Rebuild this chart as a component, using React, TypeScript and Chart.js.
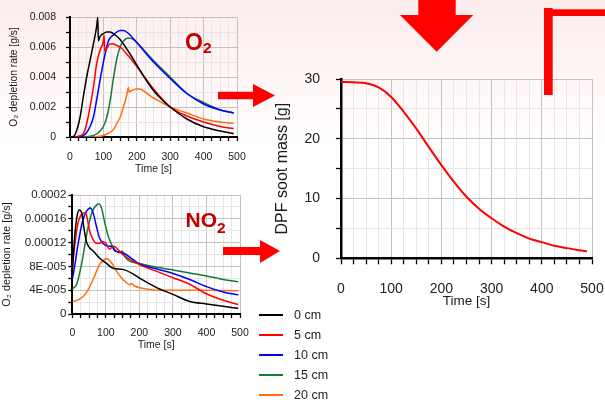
import React, { useEffect, useRef } from 'react';
import { Chart, registerables } from 'chart.js';

Chart.register(...registerables);

const FONT = '"Liberation Sans", Arial, Helvetica, sans-serif';

// ---------- legend / series ----------
const seriesNames = ['0 cm', '5 cm', '10 cm', '15 cm', '20 cm'];
const seriesColors = ['#000000', '#ff0000', '#0000ff', '#137a3a', '#ff7010'];

// ---------- O2 depletion rate [g/s] ----------
const o2Time0 = [0, 10, 20, 30, 40, 50, 60, 70, 80, 83, 85, 90, 100, 110, 120, 135, 150, 175, 200, 225, 250, 275, 300, 350, 400, 450, 490];
const o2Rate0 = [0, 0.00003, 0.00044, 0.0013, 0.0027, 0.004, 0.0051, 0.0062, 0.0074, 0.00798, 0.0064, 0.0067, 0.0069, 0.007, 0.007, 0.0068, 0.0065, 0.0057, 0.0048, 0.0039, 0.0031, 0.0025, 0.002, 0.0012, 0.00068, 0.0004, 0.00022];

const o2Time5 = [0, 20, 30, 40, 50, 60, 70, 80, 90, 100, 102, 104, 110, 120, 130, 140, 150, 175, 200, 250, 300, 350, 400, 450, 490];
const o2Rate5 = [0, 0.00002, 0.00008, 0.00022, 0.0009, 0.002, 0.0033, 0.0049, 0.0058, 0.0064, 0.0068, 0.0057, 0.0059, 0.0062, 0.0062, 0.0061, 0.006, 0.0054, 0.0047, 0.0032, 0.002, 0.0014, 0.001, 0.0007, 0.00056];

const o2Time10 = [0, 30, 40, 50, 60, 70, 80, 90, 100, 110, 115, 120, 130, 140, 150, 160, 175, 200, 250, 300, 350, 400, 450, 490];
const o2Rate10 = [0, 0.00002, 0.0001, 0.0003, 0.0007, 0.0013, 0.0025, 0.0038, 0.005, 0.006, 0.0064, 0.0066, 0.0068, 0.007, 0.0071, 0.0071, 0.0069, 0.0063, 0.005, 0.0039, 0.0029, 0.0022, 0.0018, 0.0016];

const o2Time15 = [0, 50, 70, 80, 90, 100, 110, 120, 130, 140, 150, 160, 175, 190, 200, 250, 300, 350, 400, 450, 490];
const o2Rate15 = [0, 0.00002, 0.0001, 0.0002, 0.0004, 0.0007, 0.0013, 0.0024, 0.0039, 0.0052, 0.006, 0.0064, 0.0066, 0.0065, 0.0063, 0.0051, 0.004, 0.0029, 0.0023, 0.0018, 0.0016];

const o2Time20 = [0, 80, 100, 110, 120, 130, 140, 150, 160, 170, 175, 177, 185, 200, 210, 225, 250, 275, 300, 350, 400, 450, 490];
const o2Rate20 = [0, 0.00002, 0.0001, 0.0002, 0.0003, 0.0005, 0.0009, 0.0013, 0.002, 0.0028, 0.0033, 0.003, 0.0031, 0.0032, 0.0032, 0.003, 0.0026, 0.0023, 0.002, 0.0016, 0.0012, 0.001, 0.0009];

// ---------- NO2 depletion rate [g/s] ----------
const no2Time0 = [0, 8, 15, 21, 28, 34, 42, 52, 62, 81, 100, 121, 150, 183, 203, 253, 300, 350, 400, 450, 495];
const no2Rate0 = [0.00007, 0.000136, 0.000167, 0.000175, 0.00017, 0.000147, 0.000122, 0.000111, 0.000106, 0.000094, 0.000086, 0.000077, 0.000075, 0.0000667, 0.0000594, 0.000044, 0.000033, 0.000021, 0.000017, 0.000013, 0.0000095];

const no2Time5 = [0, 7, 17, 27, 37, 42, 52, 62, 72, 81, 91, 101, 111, 123, 150, 200, 250, 300, 350, 400, 450, 495];
const no2Rate5 = [0.000078, 0.000114, 0.000153, 0.000167, 0.00017, 0.000167, 0.000139, 0.000125, 0.000119, 0.000119, 0.000122, 0.000118, 0.000109, 0.000114, 0.0001, 0.000083, 0.000072, 0.000061, 0.00005, 0.000034, 0.000023, 0.0000155];

const no2Time10 = [0, 7, 17, 27, 37, 47, 54, 62, 72, 81, 91, 107, 117, 127, 150, 200, 250, 300, 350, 400, 450, 495];
const no2Rate10 = [0.000058, 0.00008, 0.000117, 0.000147, 0.000167, 0.000176, 0.000178, 0.00017, 0.000147, 0.000128, 0.000119, 0.000114, 0.000114, 0.000106, 0.000103, 0.000084, 0.000076, 0.000068, 0.000058, 0.000046, 0.000037, 0.000032];

const no2Time15 = [0, 13, 22, 32, 42, 52, 62, 72, 80, 87, 97, 107, 117, 127, 141, 148, 156, 171, 200, 250, 300, 350, 400, 450, 495];
const no2Rate15 = [0.0000417, 0.00005, 0.000069, 0.000097, 0.000131, 0.000158, 0.000175, 0.000183, 0.000185, 0.000178, 0.000153, 0.000131, 0.000117, 0.000108, 0.000103, 0.000106, 0.000097, 0.000089, 0.000085, 0.000079, 0.000074, 0.000069, 0.000064, 0.000058, 0.000054];

const no2Time20 = [0, 22, 42, 62, 81, 97, 104, 117, 132, 146, 161, 171, 176, 186, 201, 221, 250, 300, 400, 495];
const no2Rate20 = [0.0000206, 0.000025, 0.000036, 0.000058, 0.000083, 0.000092, 0.000093, 0.000086, 0.000072, 0.000061, 0.000053, 0.000049, 0.000051, 0.000047, 0.000044, 0.000042, 0.00004, 0.00004, 0.00004, 0.000039];

// ---------- DPF soot mass [g] ----------
const sootTime = [0, 25, 50, 75, 100, 125, 150, 175, 200, 225, 250, 275, 300, 325, 350, 375, 400, 425, 450, 475, 490];
const sootMass = [29.5, 29.45, 29.3, 28.6, 27.0, 24.5, 21.7, 18.6, 15.6, 12.8, 10.3, 8.3, 6.7, 5.3, 4.2, 3.3, 2.7, 2.1, 1.7, 1.35, 1.15];

// ---------- tick labels ----------
const timeTickValues = [0, 100, 200, 300, 400, 500];
const timeTickLabels = ['0', '100', '200', '300', '400', '500'];
const o2TickValues = [0, 0.002, 0.004, 0.006, 0.008];
const o2TickLabels = ['0', '0.002', '0.004', '0.006', '0.008'];
const no2TickValues = [0, 0.00004, 0.00008, 0.00012, 0.00016, 0.0002];
const no2TickLabels = ['0', '4E-005', '8E-005', '0.00012', '0.00016', '0.0002'];
const sootTickValues = [0, 10, 20, 30];
const sootTickLabels = ['0', '10', '20', '30'];

const o2Series = [
  [o2Time0, o2Rate0], [o2Time5, o2Rate5], [o2Time10, o2Rate10], [o2Time15, o2Rate15], [o2Time20, o2Rate20],
];
const no2Series = [
  [no2Time0, no2Rate0], [no2Time5, no2Rate5], [no2Time10, no2Rate10], [no2Time15, no2Rate15], [no2Time20, no2Rate20],
];

type AxisSpec = {
  pos: 'left' | 'bottom';
  min: number;
  max: number;
  step: number;
  size: number;
  tickLen: number;
  pad: number;
  font: number;
  values: number[];
  labels: string[];
  title: string;
  titleFont: number;
  titlePad: number;
  border: number;
};

function makeAxis(s: AxisSpec) {
  const tol = s.step / 10;
  const idx = (v: number) => s.values.findIndex((x) => Math.abs(x - v) < tol);
  return {
    type: 'linear',
    position: s.pos,
    min: s.min,
    max: s.max,
    afterFit: (scale: any) => {
      if (s.pos === 'left') scale.width = s.size;
      else scale.height = s.size;
      scale.paddingLeft = 0;
      scale.paddingRight = 0;
      scale.paddingTop = 0;
      scale.paddingBottom = 0;
    },
    border: { display: true, color: '#000', width: s.border },
    grid: {
      color: (ctx: any) => (ctx.tick && idx(ctx.tick.value) >= 0 ? '#c2c2c2' : '#e6e6e6'),
      lineWidth: 1,
      drawTicks: true,
      tickLength: s.tickLen,
      tickColor: '#000',
      tickWidth: 1.3,
    },
    ticks: {
      stepSize: s.step,
      autoSkip: false,
      maxRotation: 0,
      minRotation: 0,
      padding: s.pad,
      color: '#222',
      font: { family: FONT, size: s.font },
      callback: (v: number) => {
        const i = idx(v);
        return i >= 0 ? s.labels[i] : '';
      },
    },
    title: {
      display: true,
      text: s.title,
      color: '#1a1a1a',
      font: { family: FONT, size: s.titleFont },
      padding: s.pos === 'left' ? { top: s.titlePad, bottom: 0 } : { top: 0, bottom: s.titlePad },
    },
  };
}

function makeDatasets(series: number[][][], width: number) {
  return series.map(([t, v], i) => ({
    label: seriesNames[i],
    data: t.map((x, j) => ({ x, y: v[j] })),
    borderColor: seriesColors[i],
    backgroundColor: seriesColors[i],
    borderWidth: width,
    pointRadius: 0,
    cubicInterpolationMode: 'monotone',
    fill: false,
  }));
}

function baseOptions(padding: any, x: any, y: any) {
  return {
    responsive: false,
    maintainAspectRatio: false,
    animation: false,
    devicePixelRatio: 1,
    events: [],
    layout: { padding },
    plugins: { legend: { display: false }, tooltip: { enabled: false }, title: { display: false } },
    scales: { x, y },
  };
}

export default function App() {
  const c1 = useRef<HTMLCanvasElement>(null);
  const c2 = useRef<HTMLCanvasElement>(null);
  const c3 = useRef<HTMLCanvasElement>(null);

  useEffect(() => {
    document.body.style.margin = '0';
    const charts: Chart[] = [];

    charts.push(
      new Chart(c1.current as HTMLCanvasElement, {
        type: 'line',
        data: { datasets: makeDatasets(o2Series, 1.5) as any },
        options: baseOptions(
          { left: 0, right: 13, top: 17, bottom: 0 },
          makeAxis({ pos: 'bottom', min: 0, max: 500, step: 25, size: 48, tickLen: 4, pad: 10, font: 10.5, values: timeTickValues, labels: timeTickLabels, title: 'Time [s]', titleFont: 10.5, titlePad: 9.7, border: 2 }),
          makeAxis({ pos: 'left', min: 0, max: 0.008, step: 0.001, size: 70, tickLen: 4, pad: 10, font: 10.5, values: o2TickValues, labels: o2TickLabels, title: 'O₂ depletion rate [g/s]', titleFont: 10.3, titlePad: 7.5, border: 2 })
        ) as any,
      })
    );

    charts.push(
      new Chart(c2.current as HTMLCanvasElement, {
        type: 'line',
        data: { datasets: makeDatasets(no2Series, 1.5) as any },
        options: baseOptions(
          { left: 0, right: 10, top: 15, bottom: 0 },
          makeAxis({ pos: 'bottom', min: 0, max: 500, step: 25, size: 41, tickLen: 4, pad: 8.4, font: 10.5, values: timeTickValues, labels: timeTickLabels, title: 'Time [s]', titleFont: 10.5, titlePad: 3.4, border: 2 }),
          makeAxis({ pos: 'left', min: 0, max: 0.0002, step: 0.00002, size: 72.3, tickLen: 4, pad: 2, font: 11.5, values: no2TickValues, labels: no2TickLabels, title: 'O₂ depletion rate [g/s]', titleFont: 10.8, titlePad: 1, border: 2 })
        ) as any,
      })
    );

    charts.push(
      new Chart(c3.current as HTMLCanvasElement, {
        type: 'line',
        data: {
          datasets: [
            {
              label: 'DPF soot mass',
              data: sootTime.map((x, j) => ({ x, y: sootMass[j] })),
              borderColor: '#ff0000',
              borderWidth: 2,
              pointRadius: 0,
              cubicInterpolationMode: 'monotone',
              fill: false,
            },
          ] as any,
        },
        options: baseOptions(
          { left: 0, right: 13, top: 39, bottom: 0 },
          makeAxis({ pos: 'bottom', min: 0, max: 500, step: 25, size: 61.7, tickLen: 6, pad: 16, font: 14, values: timeTickValues, labels: timeTickLabels, title: 'Time [s]', titleFont: 13.5, titlePad: 11, border: 2.5 }),
          makeAxis({ pos: 'left', min: 0, max: 30, step: 5, size: 86, tickLen: 5, pad: 16, font: 14, values: sootTickValues, labels: sootTickLabels, title: 'DPF soot mass [g]', titleFont: 16, titlePad: 17.9, border: 2.5 })
        ) as any,
      })
    );

    return () => charts.forEach((c) => c.destroy());
  }, []);

  const canvasStyle = (l: number, t: number, w: number, h: number): React.CSSProperties => ({
    position: 'absolute', left: l, top: t, width: w, height: h,
  });

  return (
    <div
      style={{
        position: 'relative',
        width: 605,
        height: 405,
        overflow: 'hidden',
        background: 'linear-gradient(to bottom, #fcecec 0px, #fff5f5 70px, #ffffff 150px)',
        fontFamily: FONT,
      }}
    >
      <canvas ref={c1} width={250} height={185} style={canvasStyle(0, 0, 250, 185)} />
      <canvas ref={c2} width={250} height={175} style={canvasStyle(0, 180, 250, 175)} />
      <canvas ref={c3} width={350} height={280} style={canvasStyle(255, 40, 350, 280)} />

      <svg width={605} height={405} style={{ position: 'absolute', left: 0, top: 0, pointerEvents: 'none' }}>
        <polygon points="218,91.7 253,91.7 253,84 275,95.6 253,107 253,99.3 218,99.3" fill="#ff0000" />
        <polygon points="223,247 260,247 260,240 280,251 260,263 260,255 223,255" fill="#ff0000" />
        <polygon points="418.3,-5 455.7,-5 455.7,15 473.3,15 436.7,51.7 400,15 418.3,15" fill="#ff0000" />
        <rect x={544} y={8} width={8.7} height={87} fill="#ff0000" />
        <rect x={544} y={9.3} width={62} height={6.7} fill="#ff0000" />
        <text x={185} y={50} fill="#c00000" fontFamily={FONT} fontWeight="bold" fontSize={23}>
          O<tspan fontSize={15.5} dy={3}>2</tspan>
        </text>
        <text x={185.5} y={226.7} fill="#c00000" fontFamily={FONT} fontWeight="bold" fontSize={21}>
          NO<tspan fontSize={15.5} dy={6}>2</tspan>
        </text>
      </svg>

      {seriesNames.map((n, i) => (
        <React.Fragment key={n}>
          <div
            style={{
              position: 'absolute',
              left: 259,
              top: 313.7 + i * 20,
              width: 24,
              height: 2,
              background: seriesColors[i],
            }}
          />
          <div
            style={{
              position: 'absolute',
              left: 294,
              top: 306.7 + i * 20,
              fontSize: 12.5,
              lineHeight: '16px',
              color: '#222',
              whiteSpace: 'nowrap',
            }}
          >
            {n}
          </div>
        </React.Fragment>
      ))}
    </div>
  );
}
